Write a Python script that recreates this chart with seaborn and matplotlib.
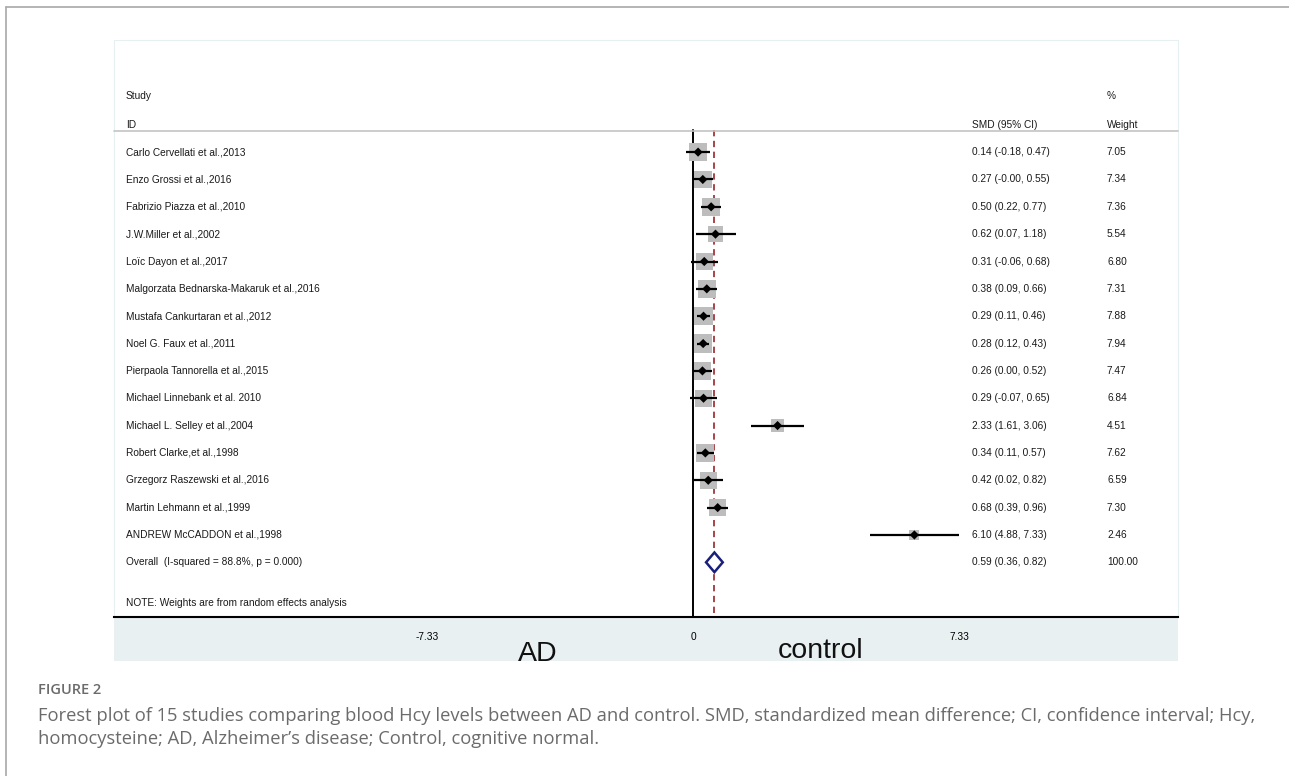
import matplotlib
matplotlib.use("Agg")
import matplotlib.pyplot as plt
from matplotlib.patches import Rectangle, Polygon
import seaborn as sns
import pandas as pd
import numpy as np

studies = [
    "Carlo Cervellati et al.,2013",
    "Enzo Grossi et al.,2016",
    "Fabrizio Piazza et al.,2010",
    "J.W.Miller et al.,2002",
    "Loïc Dayon et al.,2017",
    "Malgorzata Bednarska-Makaruk et al.,2016",
    "Mustafa Cankurtaran et al.,2012",
    "Noel G. Faux et al.,2011",
    "Pierpaola Tannorella et al.,2015",
    "Michael Linnebank et al. 2010",
    "Michael L. Selley et al.,2004",
    "Robert Clarke,et al.,1998",
    "Grzegorz Raszewski et al.,2016",
    "Martin Lehmann et al.,1999",
    "ANDREW McCADDON et al.,1998",
]
smd = [0.14, 0.27, 0.50, 0.62, 0.31, 0.38, 0.29, 0.28, 0.26, 0.29, 2.33, 0.34, 0.42, 0.68, 6.10]
ci_low = [-0.18, -0.00, 0.22, 0.07, -0.06, 0.09, 0.11, 0.12, 0.00, -0.07, 1.61, 0.11, 0.02, 0.39, 4.88]
ci_high = [0.47, 0.55, 0.77, 1.18, 0.68, 0.66, 0.46, 0.43, 0.52, 0.65, 3.06, 0.57, 0.82, 0.96, 7.33]
ci_text = [
    "0.14 (-0.18, 0.47)", "0.27 (-0.00, 0.55)", "0.50 (0.22, 0.77)", "0.62 (0.07, 1.18)",
    "0.31 (-0.06, 0.68)", "0.38 (0.09, 0.66)", "0.29 (0.11, 0.46)", "0.28 (0.12, 0.43)",
    "0.26 (0.00, 0.52)", "0.29 (-0.07, 0.65)", "2.33 (1.61, 3.06)", "0.34 (0.11, 0.57)",
    "0.42 (0.02, 0.82)", "0.68 (0.39, 0.96)", "6.10 (4.88, 7.33)",
]
weights = [7.05, 7.34, 7.36, 5.54, 6.80, 7.31, 7.88, 7.94, 7.47, 6.84, 4.51, 7.62, 6.59, 7.30, 2.46]
overall_label = "Overall  (I-squared = 88.8%, p = 0.000)"
overall_smd, overall_lo, overall_hi = 0.59, 0.36, 0.82
overall_text = "0.59 (0.36, 0.82)"
overall_weight = "100.00"
xticks = [-7.33, 0, 7.33]
xtick_labels = ["-7.33", "0", "7.33"]

W, H = 1289, 776
fig = plt.figure(figsize=(W / 100, H / 100), dpi=100)
sns.set_style("white")
plt.rcParams["font.family"] = ["Liberation Sans", "DejaVu Sans"]

def fx(px):
    return px / W

def fy(py):
    return 1 - py / H

# outer frame lines
fig.add_artist(plt.Line2D([fx(6), 1], [fy(7), fy(7)], color="#a8a8a8", lw=1.2, transform=fig.transFigure))
fig.add_artist(plt.Line2D([fx(6), fx(6)], [fy(7), 0], color="#a8a8a8", lw=1.2, transform=fig.transFigure))

# bottom band
L, R, T, B, BB = 114, 1178, 40, 617, 661
fig.add_artist(Rectangle((fx(L), fy(BB)), fx(R) - fx(L), fy(B) - fy(BB), transform=fig.transFigure,
                         facecolor="#e8f0f2", edgecolor="none", zorder=0))
fig.add_artist(Rectangle((fx(L), fy(B)), fx(R) - fx(L), fy(T) - fy(B), transform=fig.transFigure,
                         facecolor="none", edgecolor="#e6eff2", lw=0.8, zorder=0))

ax = fig.add_axes([fx(L), fy(B), fx(R) - fx(L), fy(T) - fy(B)])
ppu = 266 / 7.33
ax.set_xlim((L - 693) / ppu, (R - 693) / ppu)
ax.set_ylim(17.0, -4.1)
ax.set_facecolor("none")
for s in ["top", "left", "right"]:
    ax.spines[s].set_visible(False)
ax.spines["bottom"].set_color("black")
ax.spines["bottom"].set_linewidth(1.5)
ax.set_yticks([])
ax.set_xticks(xticks)
ax.set_xticklabels(xtick_labels, fontsize=7.3)
ax.tick_params(axis="x", direction="out", length=5, width=1.4, pad=6, colors="black")

df = pd.DataFrame({"study": studies, "smd": smd, "lo": ci_low, "hi": ci_high, "w": weights})
df["row"] = np.arange(len(df))

# reference lines
ax.plot([0, 0], [-0.8, 17.0], color="black", lw=1.4, zorder=2)
ax.plot([overall_smd, overall_smd], [-0.8, 17.0], color="#a0363c", lw=1.3, ls=(0, (3.5, 2.5)), zorder=2)

# weight boxes
sns.scatterplot(data=df, x="smd", y="row", size="w", sizes=(2.46 * 22, 7.94 * 22), size_norm=(2.46, 7.94),
                marker="s", color="#bdbdbd", edgecolor="none", legend=False, ax=ax, zorder=3)
# CI lines
ax.hlines(df["row"], df["lo"], df["hi"], color="black", lw=1.6, zorder=4)
# point estimates
sns.scatterplot(data=df, x="smd", y="row", marker="D", color="black", s=22, edgecolor="none",
                legend=False, ax=ax, zorder=5)

# overall diamond
orow = len(df)
ax.add_patch(Polygon([[overall_lo, orow], [overall_smd, orow - 0.36], [overall_hi, orow],
                      [overall_smd, orow + 0.36]], closed=True, facecolor="white",
                     edgecolor="#1a1f7a", lw=1.8, zorder=5))
ax.set_xlabel("")
ax.set_ylabel("")

fs = 7.3
tc = "#1a1a1a"
xs_lab = (126 - 693) / ppu
xs_ci = (972 - 693) / ppu
xs_w = (1107 - 693) / ppu
ax.text(xs_lab, -2.05, "Study", fontsize=fs, va="center", color=tc)
ax.text(xs_lab, -1.0, "ID", fontsize=fs, va="center", color=tc)
ax.text(xs_ci, -1.0, "SMD (95% CI)", fontsize=fs, va="center", color=tc)
ax.text(xs_w, -2.05, "%", fontsize=fs, va="center", color=tc)
ax.text(xs_w, -1.0, "Weight", fontsize=fs, va="center", color=tc)
ax.plot([(L - 693) / ppu, (R - 693) / ppu], [-0.78, -0.78], color="#c4c4c4", lw=1.2, clip_on=False)

for i, r in df.iterrows():
    ax.text(xs_lab, r["row"], r["study"], fontsize=fs, va="center", color=tc)
    ax.text(xs_ci, r["row"], ci_text[i], fontsize=fs, va="center", color=tc)
    ax.text(xs_w, r["row"], f"{r['w']:.2f}", fontsize=fs, va="center", color=tc)
ax.text(xs_lab, orow, overall_label, fontsize=fs, va="center", color=tc)
ax.text(xs_ci, orow, overall_text, fontsize=fs, va="center", color=tc)
ax.text(xs_w, orow, overall_weight, fontsize=fs, va="center", color=tc)
ax.text(xs_lab, 16.5, "NOTE: Weights are from random effects analysis", fontsize=fs, va="center", color=tc)

# side labels
fig.text(fx(538), fy(661), "AD", fontsize=20.5, ha="center", va="baseline", color="#111111")
fig.text(fx(821), fy(658), "control", fontsize=20.5, ha="center", va="baseline", color="#111111")

# caption
cap_font = ["Open Sans", "DejaVu Sans"]
fig.text(fx(38), fy(690), "FIGURE 2", fontsize=10.5, color="#6b6b6b", va="center",
         family=cap_font, fontweight="semibold")
fig.text(fx(38), fy(716), "Forest plot of 15 studies comparing blood Hcy levels between AD and control. SMD, standardized mean difference; CI, confidence interval; Hcy,",
         fontsize=13.2, color="#6b6b6b", va="center", family=cap_font)
fig.text(fx(38), fy(739), "homocysteine; AD, Alzheimer\u2019s disease; Control, cognitive normal.",
         fontsize=13.2, color="#6b6b6b", va="center", family=cap_font)

fig.savefig("out.png", dpi=100)
